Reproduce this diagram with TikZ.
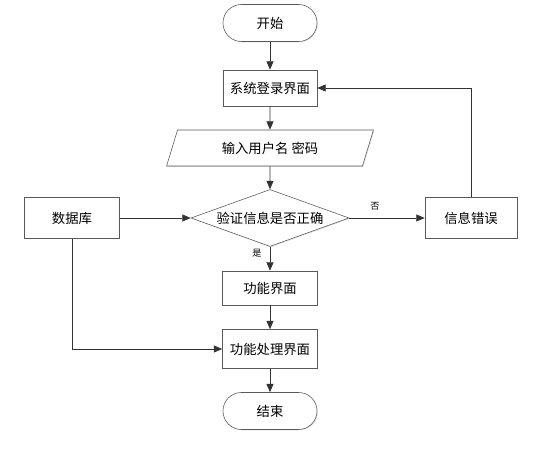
\documentclass[tikz,border=0pt]{standalone}
\usepackage{fontspec}
\setmainfont{Noto Sans CJK SC}
\usepackage{tikz}
\usetikzlibrary{shapes.geometric,arrows.meta,shadows}

\begin{document}
\begin{tikzpicture}[
  box/.style={draw=black!65,fill=white,minimum width=2.375cm,minimum height=0.95cm,align=center,font=\fontsize{9.5}{11}\selectfont,
    drop shadow={shadow xshift=0.6pt,shadow yshift=-0.6pt,opacity=0.25}},
  term/.style={box,rounded corners=0.46cm,minimum width=2.35cm,minimum height=0.925cm},
  io/.style={box,trapezium,trapezium left angle=69,trapezium right angle=111,trapezium stretches=true,minimum width=5.2cm,minimum height=0.9cm,inner sep=1pt},
  decide/.style={box,diamond,aspect=2.77,minimum width=3.95cm,minimum height=1.425cm,inner sep=0pt},
  lab/.style={font=\fontsize{6.5}{7}\selectfont},
  arr/.style={->,>={Triangle[length=6pt,width=5pt]},draw=black!80,line width=0.5pt}
]
  \useasboundingbox (0,0) rectangle (13.325,11.325);

  % Main column
  \node[term] (start) at (6.75,10.75) {开始};
  \node[box,minimum width=2.35cm,minimum height=0.9cm] (login) at (6.75,9.125) {系统登录界面};
  \node[io] (input) at (6.75,7.625) {输入用户名 密码};
  \node[decide] (check) at (6.75,5.875) {验证信息是否正确};
  \node[box,minimum height=0.85cm] (func) at (6.75,4.125) {功能界面};
  \node[box,minimum height=0.975cm] (proc) at (6.75,2.6) {功能处理界面};
  \node[term] (finish) at (6.75,1.05) {结束};

  % Side boxes
  \node[box,minimum height=1.025cm] (db) at (1.8,5.875) {数据库};
  \node[box,minimum width=2.3cm,minimum height=1.025cm] (error) at (11.775,5.875) {信息错误};

  % Labels
  \node[lab] (no) at (9.375,6.175) {否};
  \node[lab] (yes) at (6.425,5.0) {是};

  % Arrows
  \draw[arr] (start) -- (login);
  \draw[arr] (login) -- (input);
  \draw[arr] (input) -- (check);
  \draw[arr] (check) -- (func);
  \draw[arr] (func) -- (proc);
  \draw[arr] (proc) -- (finish);
  \draw[arr] (db) -- (check);
  \draw[arr] (check) -- (error);
  \draw[arr] (error.north) |- (login.east);
  \draw[arr] (db.south) |- (proc.west);
\end{tikzpicture}
\end{document}
